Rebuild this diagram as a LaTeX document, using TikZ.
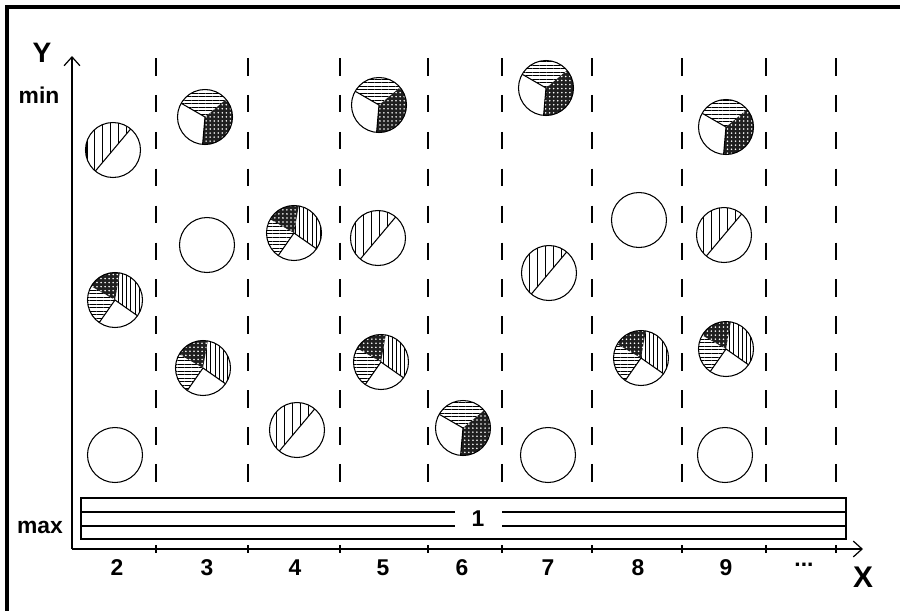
\documentclass[tikz,border=0pt]{standalone}
\usepackage{fontspec}
\setmainfont{Liberation Sans}
\usetikzlibrary{arrows.meta,patterns.meta}

\newcommand{\crad}{0.55}
\newcommand{\pieslice}[2]{(0,0) -- (#1:\crad) arc[start angle=#1,end angle=#2,radius=\crad] -- cycle}

\begin{document}
\begin{tikzpicture}[
  font=\bfseries\fontsize{13}{15}\selectfont,
  frame/.style={line width=2.3pt},
  axis/.style={line width=0.7pt, -{Straight Barb[length=5pt,width=9pt]}},
  sep/.style={line width=0.8pt, dash pattern=on 10pt off 11pt},
  tick/.style={line width=0.7pt},
  bar/.style={line width=0.9pt},
  rim/.style={line width=0.6pt},
  hlines/.style={pattern={Lines[angle=0,distance=2pt,line width=0.5pt]}},
  vlines/.style={pattern={Lines[angle=90,distance=2.4pt,line width=0.5pt]}},
  dense/.style={fill=black!88, postaction={pattern={Dots[distance=2.3pt,radius=0.5pt]}, pattern color=white}},
  pempty/.pic={\draw[rim] (0,0) circle[radius=\crad];},
  phalf/.pic={
    \path[pattern={Lines[angle=90,distance=4.5pt,line width=0.6pt]}] \pieslice{50}{230};
    \draw[rim] (50:\crad) -- (230:\crad);
    \draw[rim] (0,0) circle[radius=\crad];},
  pthree/.pic={
    \path[hlines] \pieslice{40}{150};
    \path[dense] \pieslice{-95}{40};
    \draw[rim] (150:\crad) -- (0,0) -- (-95:\crad);
    \draw[rim] (0,0) circle[radius=\crad];},
  pfour/.pic={
    \path[dense] \pieslice{80}{150};
    \path[vlines] \pieslice{-35}{80};
    \path[hlines] \pieslice{150}{235};
    \draw[rim] (235:\crad) -- (0,0) -- (-35:\crad);
    \draw[rim] (0,0) circle[radius=\crad];}
]
\useasboundingbox (0,0) rectangle (18,-12.2);

% frame
\draw[frame] (0.14,-12.3) -- (0.14,-0.14) -- (18.1,-0.14);

% axes
\coordinate (o) at (1.44,-10.98);
\coordinate (ytip) at (1.44,-1.12);
\coordinate (xtip) at (17.26,-10.98);
\draw[axis] (o) -- (ytip);
\draw[axis] (o) -- (xtip);

\node (ylab) at (0.84,-1.06) {\fontsize{16}{18}\selectfont Y};
\node (ymin) at (0.78,-1.9) {min};
\node (ymax) at (0.8,-10.54) {max};
\node (xlab) at (17.26,-11.54) {\fontsize{17}{19}\selectfont X};

% column separators and ticks
\foreach \x in {3.12,4.96,6.8,8.56,10.04,11.84,13.64,15.32,16.72} {
  \draw[sep] (\x,-1.16) -- (\x,-9.7);
  \draw[tick] (\x,-10.9) -- (\x,-11.06);
}

% column numbers
\foreach \x/\n in {2.34/2, 4.14/3, 5.9/4, 7.66/5, 9.24/6, 10.96/7, 12.76/8, 14.52/9}
  \node (t\n) at (\x,-11.36) {\n};
\node (tdots) at (16.08,-11.3) {...};

% strip 1
\draw[bar] (1.62,-9.96) rectangle (16.92,-10.78);
\draw[bar] (1.62,-10.24) -- (16.92,-10.24);
\draw[bar] (1.62,-10.52) -- (16.92,-10.52);
\node[fill=white, minimum width=0.94cm, minimum height=0.5cm, inner sep=0pt] (one) at (9.56,-10.38) {1};

% circles
\pic (h1) at (2.26,-3.0) {phalf};
\pic (h2) at (7.56,-4.76) {phalf};
\pic (h3) at (5.94,-8.6) {phalf};
\pic (h4) at (10.98,-5.46) {phalf};
\pic (h5) at (14.48,-4.7) {phalf};

\pic (a1) at (4.1,-2.34) {pthree};
\pic (a2) at (7.58,-2.1) {pthree};
\pic (a3) at (9.26,-8.56) {pthree};
\pic (a4) at (10.92,-1.76) {pthree};
\pic (a5) at (14.52,-2.54) {pthree};

\pic (b1) at (2.3,-6.0) {pfour};
\pic (b2) at (4.06,-7.36) {pfour};
\pic (b3) at (5.88,-4.66) {pfour};
\pic (b4) at (7.62,-7.24) {pfour};
\pic (b5) at (12.82,-7.16) {pfour};
\pic (b6) at (14.52,-6.98) {pfour};

\pic (e1) at (2.3,-9.1) {pempty};
\pic (e2) at (4.14,-4.9) {pempty};
\pic (e3) at (10.96,-9.1) {pempty};
\pic (e4) at (12.78,-4.4) {pempty};
\pic (e5) at (14.5,-9.1) {pempty};
\end{tikzpicture}
\end{document}
